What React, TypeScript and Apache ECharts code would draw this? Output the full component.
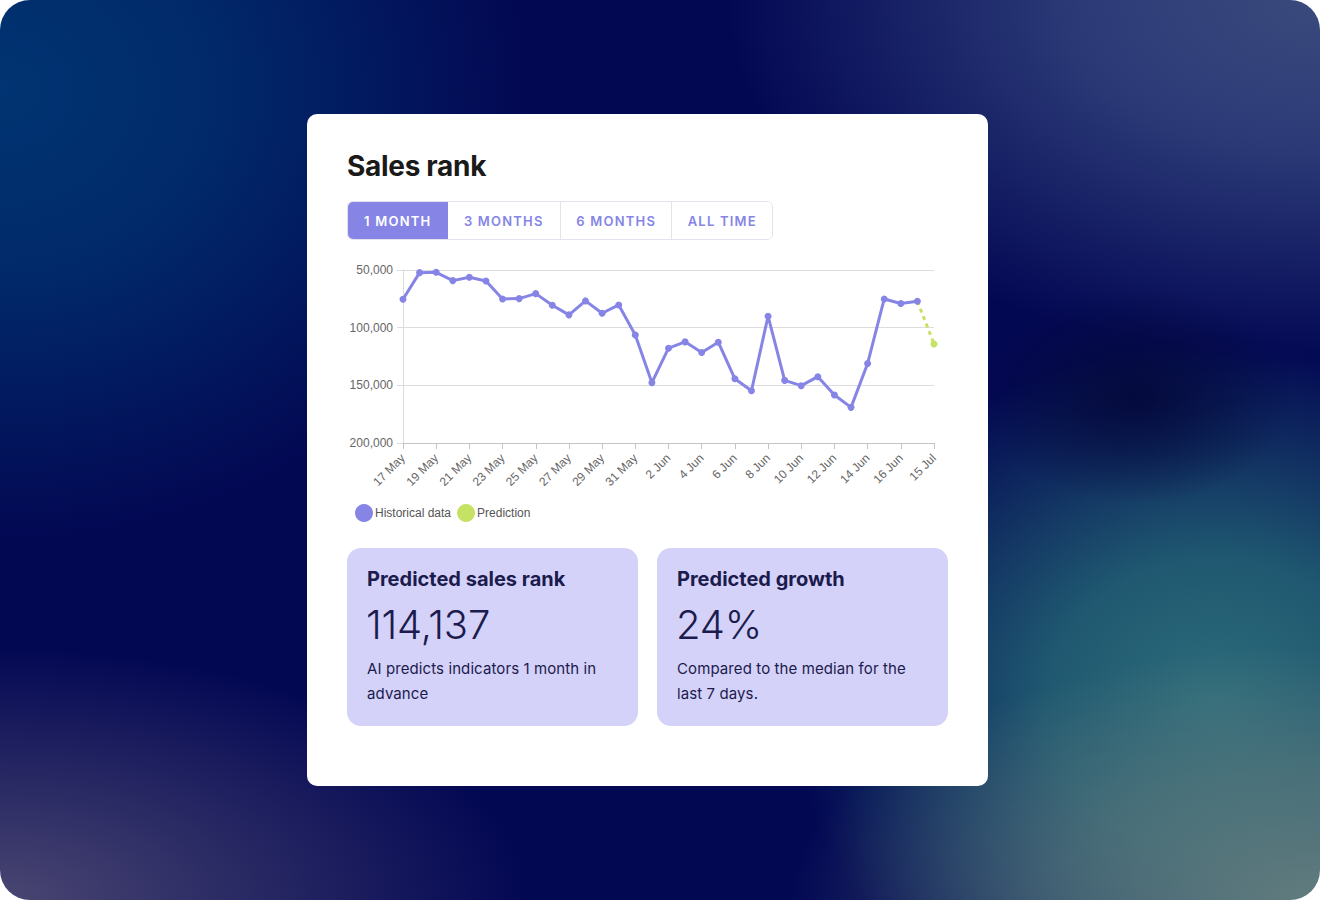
import React, { useEffect, useRef } from "react";
import * as echarts from "echarts";

const categories: string[] = [
  "17 May", "18 May", "19 May", "20 May", "21 May", "22 May", "23 May", "24 May",
  "25 May", "26 May", "27 May", "28 May", "29 May", "30 May", "31 May",
  "1 Jun", "2 Jun", "3 Jun", "4 Jun", "5 Jun", "6 Jun", "7 Jun", "8 Jun", "9 Jun",
  "10 Jun", "11 Jun", "12 Jun", "13 Jun", "14 Jun", "15 Jun", "16 Jun", "17 Jun",
  "15 Jul",
];

const historical: (number | null)[] = [
  75300, 52300, 52000, 59200, 56300, 59500, 75100, 74800, 70500, 80600, 88900,
  76800, 87500, 80300, 106300, 147700, 117800, 112300, 121500, 112600, 144300,
  154700, 90100, 145700, 150300, 142500, 158400, 169100, 131000, 75100, 79100,
  77100, null,
];

const predictionStart = 77100;
const predictedRank = 114137;

const yTicks = { min: 50000, max: 200000, interval: 50000 };

const PURPLE = "#8685e6";
const GREEN = "#c6e264";
const NAVY = "#1c1b4d";
const AXIS_FONT = "Liberation Sans, Arial, sans-serif";

function Chart() {
  const ref = useRef<HTMLDivElement>(null);
  useEffect(() => {
    if (!ref.current) return;
    const chart = echarts.init(ref.current, undefined, { renderer: "svg" });
    const prediction = categories.map((_, i) => {
      if (i === categories.length - 2) return { value: predictionStart, symbol: "none" };
      if (i === categories.length - 1) return { value: predictedRank };
      return null;
    });
    chart.setOption({
      animation: false,
      grid: { left: 73, right: 26, top: 20, bottom: 97, containLabel: false },
      legend: {
        left: 20,
        top: 249,
        icon: "circle",
        itemWidth: 18,
        itemHeight: 18,
        itemGap: 6,
        textStyle: { color: "#555", fontSize: 12, fontFamily: AXIS_FONT, padding: [0, 0, 0, -3] },
        data: ["Historical data", "Prediction"],
      },
      xAxis: {
        type: "category",
        data: categories,
        boundaryGap: false,
        axisLine: { lineStyle: { color: "#c4c4c4" } },
        axisTick: { show: true, interval: 1, length: 6, lineStyle: { color: "#c4c4c4" } },
        axisLabel: {
          interval: 1,
          rotate: 45,
          color: "#666",
          fontSize: 12,
          margin: 13,
          fontFamily: AXIS_FONT,
        },
      },
      yAxis: {
        type: "value",
        inverse: true,
        min: yTicks.min,
        max: yTicks.max,
        interval: yTicks.interval,
        axisLine: { show: true, lineStyle: { color: "#dcdcdc" } },
        axisTick: { show: true, length: 6, lineStyle: { color: "#dcdcdc" } },
        splitLine: { lineStyle: { color: "#dcdcdc" } },
        axisLabel: {
          color: "#666",
          fontSize: 12,
          margin: 10,
          fontFamily: AXIS_FONT,
          formatter: (v: number) => v.toLocaleString("en-US"),
        },
      },
      series: [
        {
          name: "Prediction",
          type: "line",
          data: prediction,
          color: GREEN,
          symbol: "circle",
          symbolSize: 7,
          showAllSymbol: true,
          lineStyle: { color: GREEN, width: 3, type: [4, 4] },
          itemStyle: { color: GREEN },
          z: 1,
        },
        {
          name: "Historical data",
          type: "line",
          data: historical,
          color: PURPLE,
          symbol: "circle",
          symbolSize: 7,
          showAllSymbol: true,
          lineStyle: { color: PURPLE, width: 3 },
          itemStyle: { color: PURPLE },
          z: 2,
        },
      ],
    });
    return () => chart.dispose();
  }, []);
  return (
    <div
      ref={ref}
      style={{ position: "absolute", left: 330, top: 250, width: 630, height: 290 }}
    />
  );
}

const buttons = [
  { label: "1 MONTH", w: 100, active: true },
  { label: "3 MONTHS", w: 113, active: false },
  { label: "6 MONTHS", w: 112, active: false },
  { label: "ALL TIME", w: 101, active: false },
];

const cardFont = "Inter, 'Noto Sans', sans-serif";

function StatCard(props: { left: number; title: string; value: string; text: string }) {
  return (
    <div
      style={{
        position: "absolute",
        left: props.left,
        top: 548,
        width: 291,
        height: 178,
        borderRadius: 14,
        background: "#d4d2f9",
        fontFamily: cardFont,
        color: NAVY,
      }}
    >
      <div style={{ position: "absolute", left: 20, top: 19, fontSize: 20, fontWeight: 700, letterSpacing: 0 }}>
        {props.title}
      </div>
      <div style={{ position: "absolute", left: 19, top: 52, fontSize: 40, fontWeight: 300, letterSpacing: -0.2 }}>
        {props.value}
      </div>
      <div style={{ position: "absolute", left: 20, top: 108, width: 250, fontSize: 15, lineHeight: "25px", letterSpacing: 0.1 }}>
        {props.text}
      </div>
    </div>
  );
}

export default function App() {
  return (
    <div style={{ position: "fixed", left: 0, top: 0, width: 1320, height: 900, background: "#ffffff", overflow: "hidden" }}>
      <div
        style={{
          position: "absolute",
          left: 0,
          top: 0,
          width: 1320,
          height: 900,
          borderRadius: 30,
          background:
            "radial-gradient(ellipse 12% 12% at 86% 44%, #040a3c 0%, rgba(4,10,60,0) 100%)," +
            "radial-gradient(ellipse 40% 28% at 100% 100%, #627d7e 0%, rgba(98,125,126,0.6) 50%, rgba(98,125,126,0) 100%)," +
            "radial-gradient(ellipse 32% 40% at 92% 78%, #2e6d7b 0%, #1f5870 40%, rgba(20,50,100,0) 100%)," +
            "radial-gradient(ellipse 45% 40% at 100% 0%, #3a4a7c 0%, #2c3b78 40%, rgba(20,30,100,0) 100%)," +
            "radial-gradient(ellipse 40% 50% at 0% 10%, #013472 0%, #012a6a 40%, rgba(0,20,90,0) 100%)," +
            "radial-gradient(ellipse 40% 28% at 0% 100%, #4a4672 0%, rgba(40,40,100,0) 100%)," +
            "#030853",
        }}
      />
      <div
        style={{
          position: "absolute",
          left: 307,
          top: 114,
          width: 681,
          height: 672,
          background: "#ffffff",
          borderRadius: 10,
        }}
      />
      <div
        style={{
          position: "absolute",
          left: 347,
          top: 149,
          fontFamily: cardFont,
          fontSize: 28,
          fontWeight: 700,
          color: "#1a1a1a",
          letterSpacing: -0.3,
        }}
      >
        Sales rank
      </div>
      <div
        style={{
          position: "absolute",
          left: 347,
          top: 201,
          width: 426,
          height: 39,
          border: "1px solid #e3e3ee",
          boxSizing: "border-box",
          borderRadius: 6,
          overflow: "hidden",
          display: "flex",
        }}
      >
        {buttons.map((b, i) => (
          <div
            key={b.label}
            style={{
              width: b.w,
              height: "100%",
              boxSizing: "border-box",
              borderLeft: i > 0 && !buttons[i - 1].active ? "1px solid #e3e3ee" : "none",
              background: b.active ? PURPLE : "#fff",
              color: b.active ? "#fff" : PURPLE,
              fontFamily: cardFont,
              fontSize: 13,
              fontWeight: 600,
              letterSpacing: 1.2,
              display: "flex",
              alignItems: "center",
              justifyContent: "center",
            }}
          >
            {b.label}
          </div>
        ))}
      </div>
      <Chart />
      <StatCard left={347} title="Predicted sales rank" value="114,137" text="AI predicts indicators 1 month in advance" />
      <StatCard left={657} title="Predicted growth" value="24%" text="Compared to the median for the last 7 days." />
    </div>
  );
}
